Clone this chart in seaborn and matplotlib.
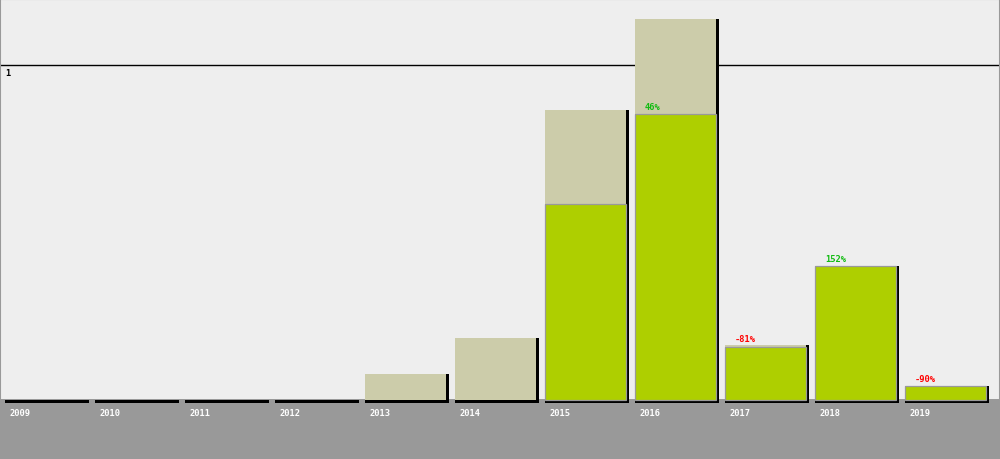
import numpy as np
import pandas as pd
import matplotlib
matplotlib.use("Agg")
import matplotlib.pyplot as plt
import seaborn as sns
from matplotlib.patches import Rectangle

# ---- data ----
years = ["2009", "2010", "2011", "2012", "2013", "2014", "2015", "2016", "2017", "2018", "2019"]
total_values = [0.0, 0.0, 0.0, 0.0, 0.076, 0.184, 0.865, 1.138, 0.164, 0.398, 0.0395]
green_values = [np.nan, np.nan, np.nan, np.nan, np.nan, np.nan, 0.5835, 0.8535, 0.158, 0.398, 0.0395]
pct_labels = ["", "", "", "", "", "", "", "46%", "-81%", "152%", "-90%"]
pct_colors = ["", "", "", "", "", "", "", "#11bb11", "#ff0000", "#11bb11", "#ff0000"]
ref_value = 1
ref_label = "1"

df = pd.DataFrame({"year": years, "total": total_values, "green": green_values})

# ---- geometry (pixel based) ----
W, H = 1000, 460
zero_px = 400.5          # y pixel (from top) of value 0
unit_px = 334.5          # pixels per unit
slot_px = 90.0
first_left = 5.0
bar_px = 81.0
px_x = 1.0 / slot_px
px_y = 1.0 / unit_px

sns.set_style("white")
plt.rcParams["font.family"] = ["DejaVu Sans Mono"]

fig = plt.figure(figsize=(W / 100, H / 100), dpi=100, facecolor="#eeeeee")
ax = fig.add_axes([0, 0, 1, 1])
ax.set_facecolor("#eeeeee")

x_left = -(first_left + bar_px / 2) / slot_px
x_right = (W - first_left - bar_px / 2) / slot_px
y_bottom = -(H - zero_px) / unit_px
y_top = zero_px / unit_px

# bottom grey band
ax.axhspan(y_bottom, 0.5 * px_y, color="#999999", lw=0, zorder=0)
# reference line
ax.axhline(ref_value, color="black", lw=1.0, zorder=0.5)
ax.text(x_left + 5 * px_x, ref_value - 3 * px_y, ref_label, ha="left", va="top",
        fontsize=6.3, fontweight="bold", color="black", zorder=0.6)

# shadows
heights = np.nanmax(np.vstack([np.array(total_values, float),
                               np.nan_to_num(np.array(green_values, float))]), axis=0)
idx = np.arange(len(years))
w = bar_px / slot_px
ax.bar(idx - w / 2, heights + 3 * px_y, bottom=-3 * px_y, width=w + 3 * px_x,
       align="edge", color="black", lw=0, zorder=1)

# total (tan) bars
sns.barplot(data=df, x="year", y="total", color="#ccccaa", saturation=1, width=w,
            linewidth=0, ax=ax, zorder=2)
# green bars
sns.barplot(data=df, x="year", y="green", color="#aecf00", saturation=1, width=w,
            edgecolor="#999999", linewidth=0.9, ax=ax, zorder=3)

# percentage labels
for i, (lab, col) in enumerate(zip(pct_labels, pct_colors)):
    if lab:
        ax.text(i - w / 2 + 10 * px_x, green_values[i] + 3.5 * px_y, lab, ha="left",
                va="bottom", fontsize=6.3, fontweight="bold", color=col, zorder=4)

# year labels
for i, yr in enumerate(years):
    ax.text(i - w / 2 + 5 * px_x, -13 * px_y, yr, ha="left", va="center",
            fontsize=6.3, fontweight="bold", color="white", zorder=4)

ax.set_xlim(x_left, x_right)
ax.set_ylim(y_bottom, y_top)
ax.set_axis_off()

# outer border
fig.patches.append(Rectangle((0, 0), 1, 1, transform=fig.transFigure, fill=False,
                             edgecolor="#999999", lw=1.5, zorder=10))

fig.savefig("out.png", dpi=100, facecolor=fig.get_facecolor())
